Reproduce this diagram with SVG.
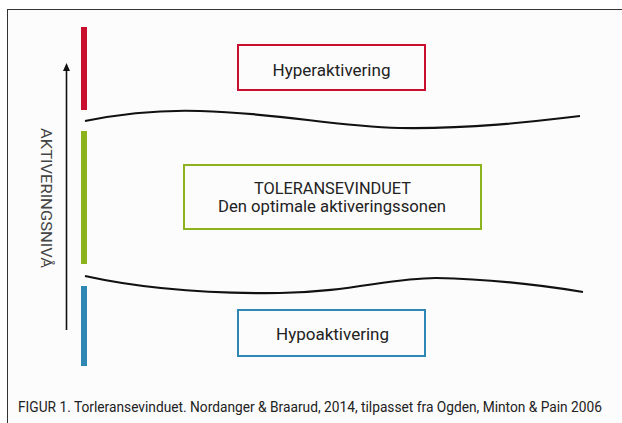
<svg xmlns="http://www.w3.org/2000/svg" width="622" height="423" viewBox="0 0 622 423">
<style>
.t{font-family:"Roboto","Liberation Sans",sans-serif;fill:#222;}
.bar{stroke:none;}
.curve{fill:none;stroke:#111;stroke-width:2.2;}
.box{fill:none;stroke-width:2;}
</style>
<defs>
<marker id="ah" viewBox="0 0 10 10" refX="5" refY="2" markerWidth="8" markerHeight="8" markerUnits="userSpaceOnUse" orient="auto-start-reverse">
<path d="M0,10 L5,0 L10,10 Z" fill="#111"/>
</marker>
</defs>
<rect x="0" y="0" width="622" height="423" fill="#ffffff"/>
<rect x="7.5" y="9.5" width="620" height="420" fill="#fcfcfc" stroke="#333" stroke-width="1"/>
<g id="bars">
<rect class="bar" x="81" y="27" width="6" height="83" fill="#c8102e"/>
<rect class="bar" x="81" y="131" width="6" height="133" fill="#8cb21c"/>
<rect class="bar" x="81" y="286" width="6" height="80" fill="#2f88b4"/>
</g>
<g id="axis">
<line x1="66.5" y1="330" x2="66.5" y2="68" stroke="#111" stroke-width="1.6"/>
<path d="M63,71 L66.5,63 L70,71 Z" fill="#111"/>
<text class="t" transform="translate(41,198) rotate(90)" text-anchor="middle" font-size="15" fill="#444" style="fill:#444" textLength="140" lengthAdjust="spacingAndGlyphs">AKTIVERINGSNIVÅ</text>
</g>
<g id="connectors">
<path class="curve" d="M85,121 C130,112 170,110 200,111 C280,113 330,126 400,128 C470,129 530,122 580,116"/>
<path class="curve" d="M85,276 C130,286 190,294 280,293 C350,292 390,278 436,278 C490,279 540,285 583,292"/>
</g>
<g id="hyper">
<rect class="box" x="238" y="45" width="187" height="45" stroke="#c8102e"/>
<text class="t" x="331.5" y="76" text-anchor="middle" font-size="16" textLength="118" lengthAdjust="spacingAndGlyphs">Hyperaktivering</text>
</g>
<g id="toleranse">
<rect class="box" x="184" y="165" width="297" height="64" stroke="#8cb21c"/>
<text class="t" x="332.5" y="194" text-anchor="middle" font-size="16" textLength="157" lengthAdjust="spacingAndGlyphs">TOLERANSEVINDUET</text>
<text class="t" x="332" y="212" text-anchor="middle" font-size="16" textLength="228" lengthAdjust="spacingAndGlyphs">Den optimale aktiveringssonen</text>
</g>
<g id="hypo">
<rect class="box" x="238" y="310" width="187" height="46" stroke="#2f88b4"/>
<text class="t" x="332.5" y="340" text-anchor="middle" font-size="16" textLength="113" lengthAdjust="spacingAndGlyphs">Hypoaktivering</text>
</g>
<g id="caption">
<text class="t" x="18" y="412" font-size="14" textLength="584" lengthAdjust="spacingAndGlyphs">FIGUR 1. Torleransevinduet. Nordanger &amp; Braarud, 2014, tilpasset fra Ogden, Minton &amp; Pain 2006</text>
</g>
</svg>
